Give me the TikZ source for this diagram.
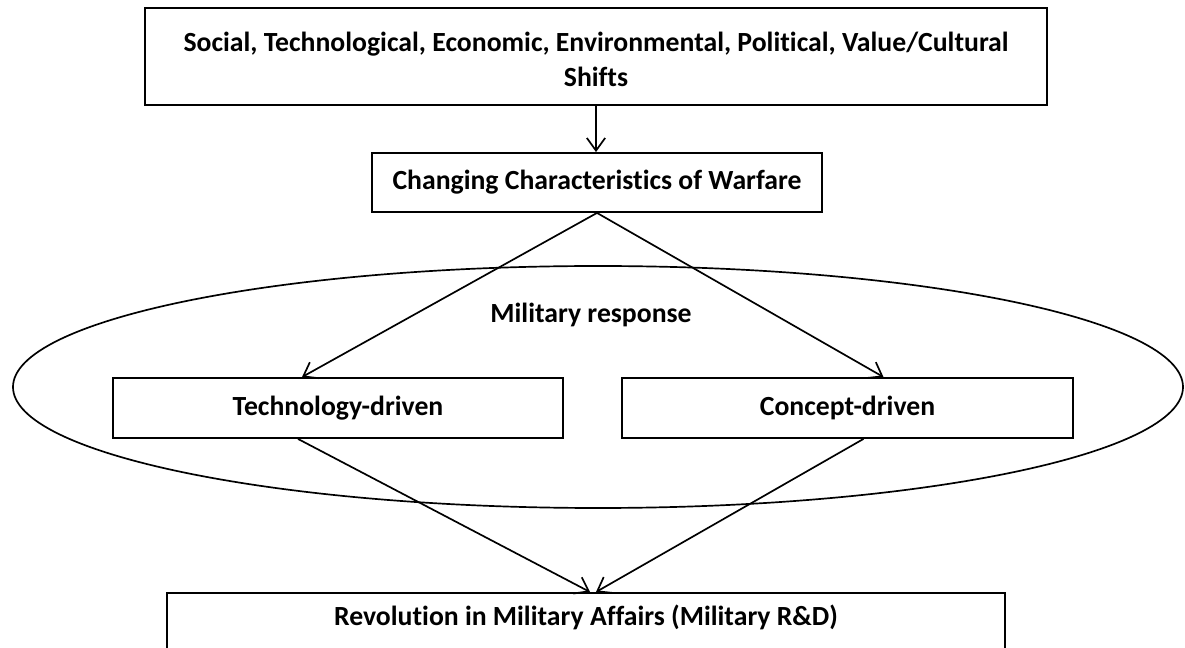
\documentclass[tikz,border=0pt]{standalone}
\usepackage{fontspec}
\setmainfont{Carlito}[Ligatures=CommonOff]
\usetikzlibrary{arrows.meta}

\tikzset{
	box/.style={draw, line width=1.3pt, inner sep=0pt, align=center,
		font=\bfseries\fontsize{19.7}{24.5}\selectfont},
	>={Straight Barb[length=9pt,width=13pt,line width=1.2pt]}
}

\begin{document}
\begin{tikzpicture}[x=0.025cm, y=-0.025cm, line width=1.2pt]
		\clip (0,0) rectangle (1185,648);
		% boxes
		\node[box, minimum width=22.55cm, minimum height=2.425cm] (shifts) at (596,56.5) {\rule{0pt}{0.62cm}Social, Technological, Economic, Environmental, Political, Value/Cultural\\Shifts};
		\node[box, minimum width=11.25cm, minimum height=1.475cm] (warfare) at (597,182.5) {Changing Characteristics of Warfare};
		\draw (598,387) ellipse (585 and 121);
		\node[font=\bfseries\fontsize{19.7}{23.5}\selectfont] (response) at (591,315) {Military response};
		\node[box, minimum width=11.25cm, minimum height=1.5cm] (tech) at (338,408) {Technology-driven};
		\node[box, minimum width=11.275cm, minimum height=1.5cm] (concept) at (847.5,408) {Concept-driven};
		\node[box, minimum width=20.95cm, anchor=north, text height=0.82cm, text depth=1.6cm] (rma) at (586,592) {Revolution in Military Affairs (Military R\&D)};
		% arrows
		\draw[->] (shifts.south) -- (shifts.south |- warfare.north);
		\draw[->] (warfare.south) -- ([xshift=-0.9cm]tech.north);
		\draw[->] (warfare.south) -- ([xshift=0.9cm]concept.north);
		\draw[->] ([xshift=-1cm]tech.south) -- ([xshift=0.1cm]rma.north);
		\draw[->] ([xshift=0.4cm]concept.south) -- ([xshift=0.25cm]rma.north);
\end{tikzpicture}
\end{document}
